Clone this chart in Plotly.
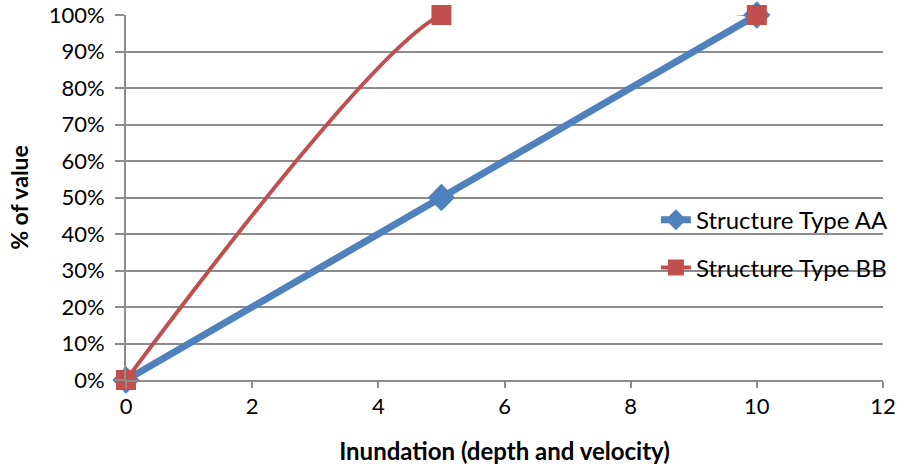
import plotly.graph_objects as go

x_vals = [0, 5, 10]
aa_vals = [0.0, 0.5, 1.0]
bb_vals = [0.0, 1.0, 1.0]
x_ticks = [0, 2, 4, 6, 8, 10, 12]
y_ticks = [i / 10 for i in range(11)]
y_labels = [f"{i*10}%" for i in range(11)]

FONT = "Lato, 'Open Sans', sans-serif"
GRID = "#8c8c8c"

fig = go.Figure()
fig.add_trace(go.Scatter(
    x=x_vals, y=aa_vals, name="Structure Type AA", mode="lines+markers",
    line=dict(color="#4f81bd", width=7),
    marker=dict(symbol="diamond", size=21, color="#4f81bd"),
    legend="legend", cliponaxis=False,
))
fig.add_trace(go.Scatter(
    x=x_vals, y=bb_vals, name="Structure Type BB", mode="lines+markers",
    line=dict(color="#c0504d", width=4, shape="spline", smoothing=0.55),
    marker=dict(symbol="square", size=20, color="#c0504d"),
    legend="legend2", cliponaxis=False,
))

fig.update_layout(
    width=901, height=472,
    margin=dict(l=126, r=18, t=15, b=92, autoexpand=False),
    paper_bgcolor="white", plot_bgcolor="white",
    font=dict(family=FONT, size=22, color="black"),
    legend=dict(x=0.70, y=0.438, xanchor="left", yanchor="middle",
                bgcolor="rgba(0,0,0,0)", font=dict(size=24)),
    legend2=dict(x=0.70, y=0.307, xanchor="left", yanchor="middle",
                 bgcolor="rgba(0,0,0,0)", font=dict(size=24)),
    showlegend=True,
)
fig.update_xaxes(
    range=[0, 12], tickvals=x_ticks, ticktext=[str(t) for t in x_ticks],
    showgrid=False, showline=True, linecolor=GRID, linewidth=2,
    ticks="outside", ticklen=6, tickcolor=GRID, tickwidth=2,
    zeroline=False, automargin=False,
    title=dict(text="<b>Inundation (depth and velocity)</b>", font=dict(size=24), standoff=25),
)
fig.update_yaxes(
    range=[0, 1], tickvals=y_ticks, ticktext=y_labels,
    showgrid=True, gridcolor=GRID, gridwidth=2,
    showline=True, linecolor=GRID, linewidth=2,
    ticks="outside", ticklen=9, tickcolor=GRID, tickwidth=2,
    ticklabelstandoff=6,
    zeroline=False, automargin=False,
    title=dict(text="<b>% of value</b>", font=dict(size=23), standoff=14),
)
fig.write_html("out.html")
